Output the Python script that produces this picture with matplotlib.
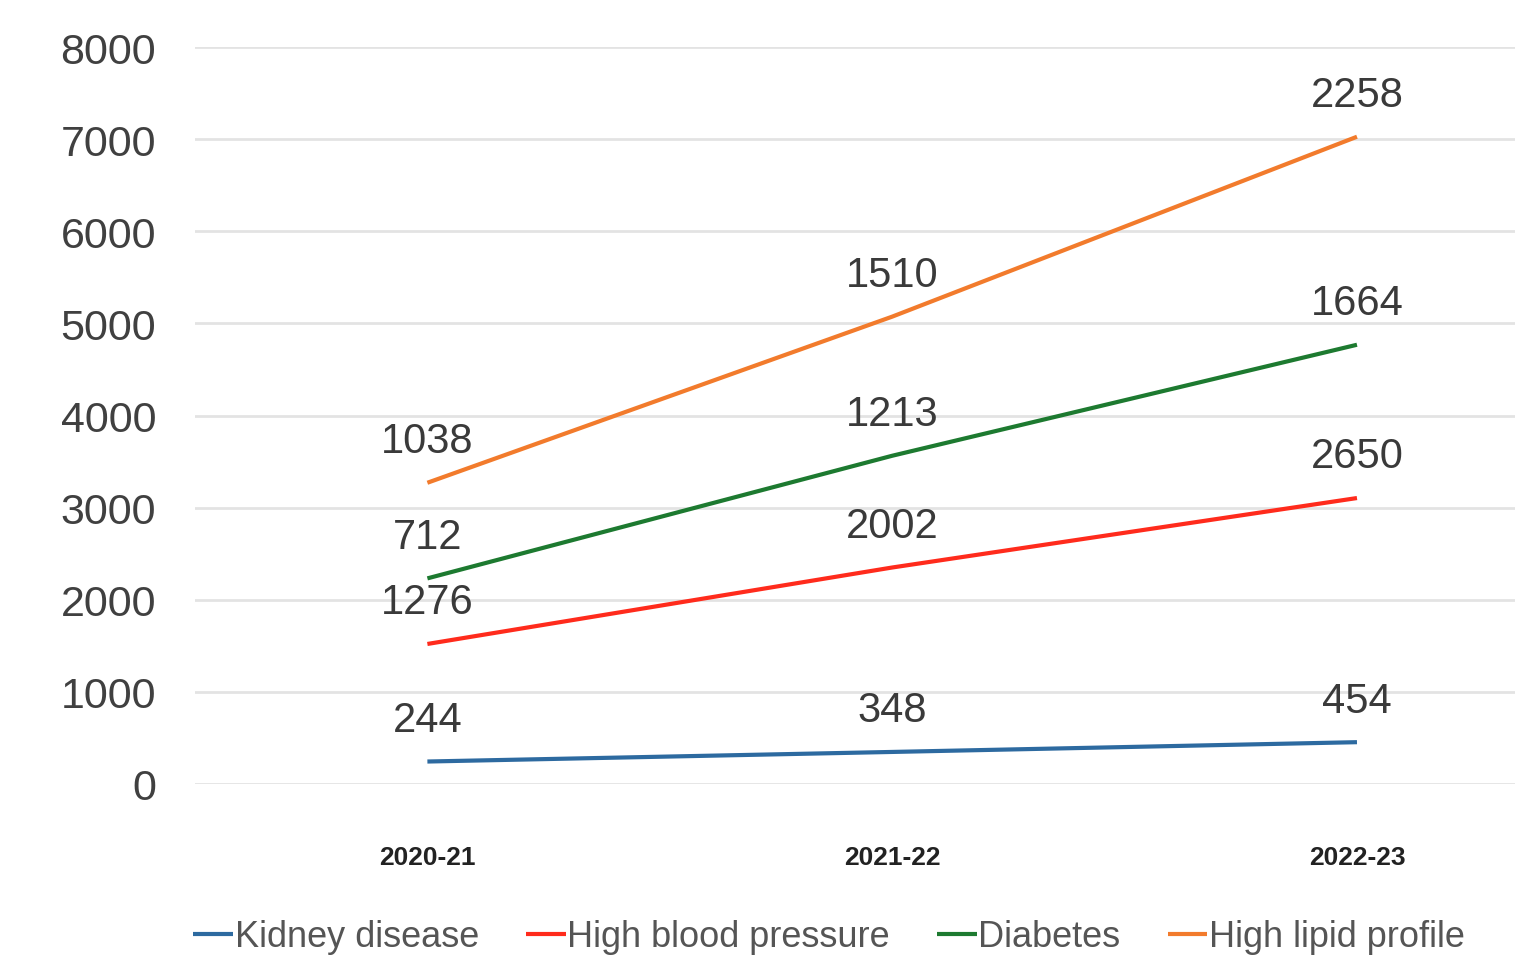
import matplotlib
matplotlib.use("Agg")
import matplotlib.pyplot as plt
import numpy as np

categories = ["2020-21", "2021-22", "2022-23"]
kidney = [244, 348, 454]
high_bp = [1276, 2002, 2650]
diabetes = [712, 1213, 1664]
lipid = [1038, 1510, 2258]
series_names = ["Kidney disease", "High blood pressure", "Diabetes", "High lipid profile"]
colors = ["#2d6aa0", "#ff2b1c", "#1d7a30", "#f27b2c"]
yticks = [0, 1000, 2000, 3000, 4000, 5000, 6000, 7000, 8000]

plt.rcParams['font.family'] = ['Liberation Sans', 'DejaVu Sans']

fig = plt.figure(figsize=(15.15, 9.7), dpi=100)
ax = fig.add_axes([195/1515, (970-785)/970, 1-195/1515, (785-48)/970])

x = np.arange(len(categories))
series = [kidney, high_bp, diabetes, lipid]
cum = np.zeros(len(categories))
for vals, name, col in zip(series, series_names, colors):
    cum = cum + np.array(vals)
    ax.plot(x, cum, color=col, lw=3, label=name, solid_capstyle='butt', zorder=3)
    for xi, yi, v in zip(x, cum, vals):
        ax.annotate(str(v), (xi, yi), xytext=(0, 30), textcoords='offset points',
                    ha='center', va='center', fontsize=30, color='#3a3a3a')

ax.set_xlim(-0.5, 2.34)
ax.set_ylim(0, 8000)
ax.set_yticks(yticks)
ax.set_yticklabels([str(t) for t in yticks], fontsize=31, color='#404040')
ax.set_xticks(x)
ax.set_xticklabels(categories, fontsize=19, fontweight='bold', color='#222222')
ax.tick_params(axis='both', length=0)
ax.tick_params(axis='y', pad=28)
ax.tick_params(axis='x', pad=44)
ax.grid(axis='y', color='#e3e3e3', lw=2)
ax.set_axisbelow(True)
for s in ax.spines.values():
    s.set_visible(False)

leg = fig.legend(loc='center', bbox_to_anchor=(829/1515, 1-938/970), ncol=4, frameon=False,
                 fontsize=26, handlelength=1.1, handletextpad=0.05, columnspacing=1.3,
                 labelcolor='#555555')
for h in leg.get_lines():
    h.set_linewidth(3)

fig.savefig("out.png", dpi=100)
